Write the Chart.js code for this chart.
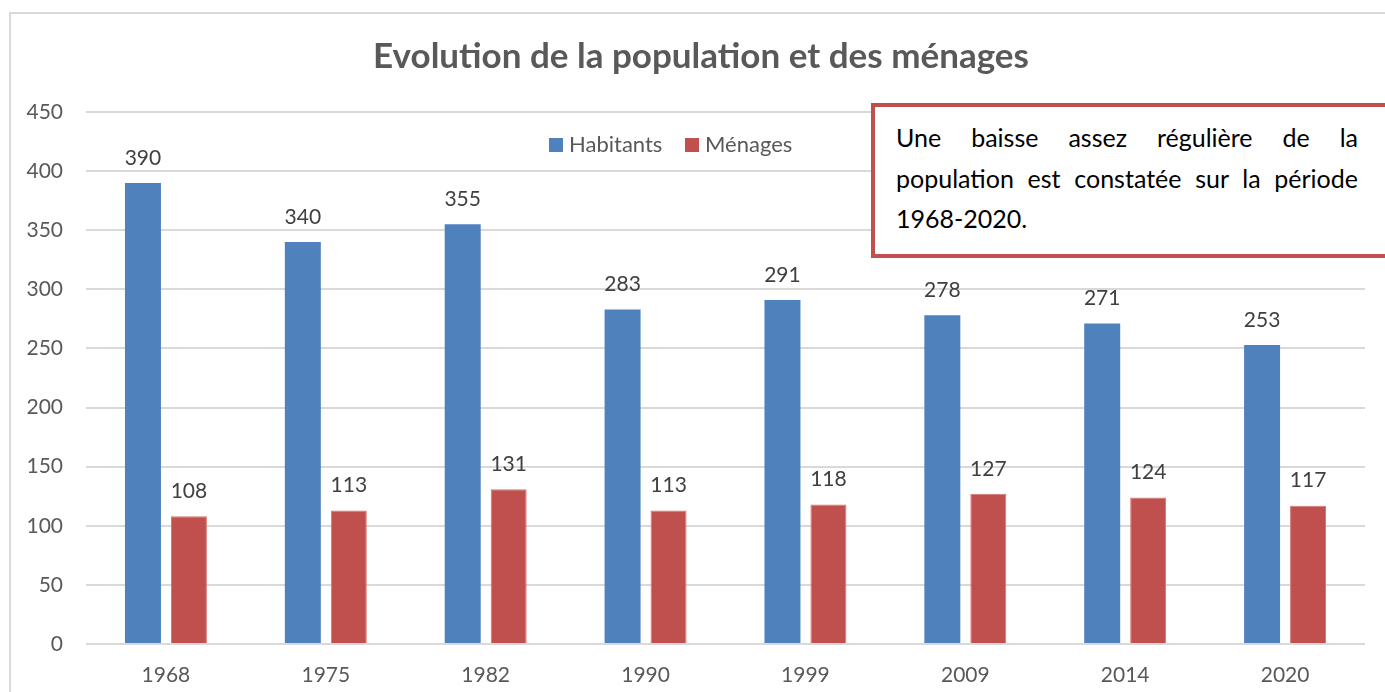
<!DOCTYPE html>
<html>
<head>
<meta charset="utf-8">
<script src="https://cdn.jsdelivr.net/npm/chart.js@4.4.1/dist/chart.umd.min.js"></script>
<style>
  html, body { margin: 0; padding: 0; background: #fff; }
  #wrap { position: relative; width: 1385px; height: 692px; overflow: hidden; }
  #frame { position: absolute; left: 9px; top: 12px; width: 1400px; height: 700px;
           border-left: 2px solid #d9d9d9; border-top: 2px solid #d9d9d9; box-sizing: border-box; }
  canvas { position: absolute; left: 0; top: 0; }
  #note { position: absolute; left: 871px; top: 103px; width: 560px; height: 155px;
          border: 4px solid #C0504D; background: #fff; box-sizing: border-box;
          font-family: Lato, "Open Sans", sans-serif; font-size: 25px; color: #000; }
  #note .ln { position: absolute; left: 21px; width: 462px; line-height: 40px; white-space: nowrap; }
  #note .j { text-align: justify; text-align-last: justify; white-space: normal; }
</style>
</head>
<body>
<div id="wrap">
  <div id="frame"></div>
  <canvas id="c" width="1385" height="692"></canvas>
  <div id="note">
    <div class="ln j" style="top:10px">Une baisse assez régulière de la</div>
    <div class="ln j" style="top:51px">population est constatée sur la période</div>
    <div class="ln" style="top:91px">1968-2020.</div>
  </div>
</div>
<script>
const titleText = "Evolution de la population et des ménages";
const categories = ["1968", "1975", "1982", "1990", "1999", "2009", "2014", "2020"];
const habitants = [390, 340, 355, 283, 291, 278, 271, 253];
const menages = [108, 113, 131, 113, 118, 127, 124, 117];
const seriesNames = ["Habitants", "Ménages"];
const yTicks = [0, 50, 100, 150, 200, 250, 300, 350, 400, 450];

const FONT = "Lato, 'Open Sans', sans-serif";

const titlePlugin = {
  id: 'customTitle',
  afterDraw(chart) {
    const ctx = chart.ctx;
    ctx.save();
    ctx.font = "bold 35px " + FONT;
    ctx.fillStyle = "#595959";
    ctx.textAlign = "center";
    ctx.textBaseline = "middle";
    ctx.fillText(titleText, 701, 57);
    ctx.restore();
  }
};

const legendPlugin = {
  id: 'customLegend',
  afterDraw(chart) {
    const ctx = chart.ctx;
    ctx.save();
    ctx.font = "22px " + FONT;
    ctx.textBaseline = "middle";
    const pos = [549, 685];
    chart.data.datasets.forEach((ds, i) => {
      const x = pos[i];
      ctx.fillStyle = ds.backgroundColor;
      ctx.fillRect(x, 138, 14, 14);
      ctx.fillStyle = "#595959";
      ctx.fillText(ds.label, x + 20, 145);
    });
    ctx.restore();
  }
};

const labelPlugin = {
  id: 'valueLabels',
  afterDatasetsDraw(chart) {
    const ctx = chart.ctx;
    ctx.save();
    ctx.font = "21px " + FONT;
    ctx.fillStyle = "#404040";
    ctx.textAlign = "center";
    ctx.textBaseline = "middle";
    chart.data.datasets.forEach((ds, i) => {
      const meta = chart.getDatasetMeta(i);
      meta.data.forEach((bar, j) => {
        ctx.fillText(String(ds.data[j]), bar.x, bar.y - 25);
      });
    });
    ctx.restore();
  }
};

new Chart(document.getElementById('c'), {
  type: 'bar',
  data: {
    labels: categories,
    datasets: [
      { label: seriesNames[0], data: habitants, backgroundColor: "#4F81BD",
        categoryPercentage: 0.575, barPercentage: 0.783 },
      { label: seriesNames[1], data: menages, backgroundColor: "#C0504D",
        borderColor: "#D27572", borderWidth: 1,
        categoryPercentage: 0.575, barPercentage: 0.783 }
    ]
  },
  options: {
    responsive: false,
    animation: false,
    devicePixelRatio: 1,
    layout: { padding: { left: 20, right: 20, top: 112, bottom: 0 } },
    plugins: {
      legend: { display: false },
      title: { display: false },
      tooltip: { enabled: false }
    },
    scales: {
      x: {
        afterFit(scale) { scale.height = 48; },
        grid: { display: false, drawTicks: false },
        border: { display: false },
        ticks: { color: "#595959", font: { family: FONT, size: 21 }, padding: 19 }
      },
      y: {
        min: 0, max: 450,
        afterBuildTicks(scale) { scale.ticks = yTicks.map(v => ({ value: v })); },
        afterFit(scale) { scale.width = 66; },
        grid: { color: "#d9d9d9", lineWidth: 2, drawTicks: false },
        border: { display: false },
        ticks: { color: "#595959", font: { family: FONT, size: 21 }, padding: 23 }
      }
    }
  },
  plugins: [titlePlugin, legendPlugin, labelPlugin]
});
</script>
</body>
</html>
